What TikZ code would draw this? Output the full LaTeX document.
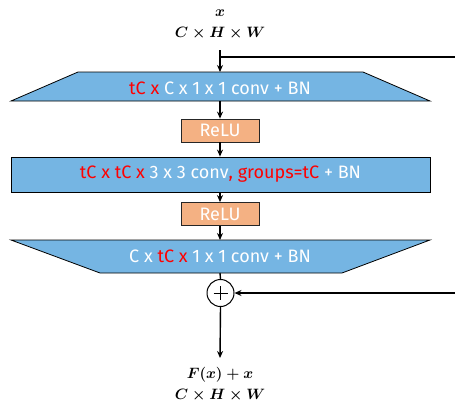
\RequirePackage{fix-cm}
\documentclass[tikz,border=0pt]{standalone}
\usepackage{fontspec}
\setsansfont{Fira Sans}
\usetikzlibrary{arrows.meta}
\definecolor{convblue}{HTML}{75B5E3}
\definecolor{reluorange}{HTML}{F4B183}
\definecolor{redtxt}{HTML}{FF0000}
\tikzset{
  blk/.style={draw=black, line width=0.8pt, fill=convblue},
  relu/.style={draw=black!85, line width=0.8pt, fill=reluorange, minimum width=78pt, minimum height=23pt, inner sep=0pt, text=white, font=\sffamily\fontsize{18}{18}\selectfont},
  lbl/.style={text=white, font=\sffamily\fontsize{18}{18}\selectfont},
  mathlbl/.style={font=\fontsize{15}{18}\selectfont\boldmath, align=center},
  arr/.style={-{Stealth[length=7pt,width=6pt]}, line width=1.4pt},
  ln/.style={line width=1.4pt}
}
\begin{document}
\begin{tikzpicture}[x=1pt,y=-1pt]
\useasboundingbox (0,0) rectangle (455,405);
% input labels
\node[mathlbl] (inx) at (220,13) {$x$};
\node[mathlbl] (inshape) at (220,33) {$C\times H\times W$};
% top branching point
\coordinate (tick) at (220,50);
\coordinate (split) at (220,57);
\coordinate (skipR) at (455,57);
% trapezoid 1
\draw[blk] (78,72) -- (363,72) -- (430,101) -- (11,101) -- cycle;
\coordinate (t1top) at (220,72);
\coordinate (t1bot) at (220,101);
\node[lbl] (t1) at (220,88.5) {\textcolor{redtxt}{tC x} C x 1 x 1 conv + BN};
% relu 1
\node[relu] (r1) at (220,130.5) {ReLU};
% rectangle 2
\node[blk, minimum width=419pt, minimum height=35pt, inner sep=0pt] (g) at (220.5,174.5) {};
\node[lbl] (gtxt) at (220.5,174.5) {\textcolor{redtxt}{tC x tC x} 3 x 3 conv\textcolor{redtxt}{, groups=tC} + BN};
% relu 2
\node[relu] (r2) at (220,214) {ReLU};
% trapezoid 3
\draw[blk] (11,240) -- (430,240) -- (342,273) -- (100,273) -- cycle;
\coordinate (t3top) at (220,240);
\coordinate (t3bot) at (220,273);
\node[lbl] (t3) at (220,256.5) {C x \textcolor{redtxt}{tC x} 1 x 1 conv + BN};
% sum
\node[draw=black, circle, line width=1pt, minimum size=27pt, inner sep=0pt] (sum) at (220.5,293) {};
\draw[line width=0.9pt] (sum.center) ++(-7,0) -- ++(14,0) (sum.center) ++(0,-7) -- ++(0,14);
\coordinate (skipR2) at (455,293);
% output labels
\node[mathlbl] (outx) at (220,375) {$F(x)+x$};
\node[mathlbl] (outshape) at (220,395) {$C\times H\times W$};
\coordinate (outarr) at (220,358);
% connectors
\draw[ln] (tick) -- (split) -- (skipR);
\draw[arr] (split) -- (t1top);
\draw[arr] (t1bot) -- (r1.north);
\draw[arr] (r1.south) -- (g.north -| r1.south);
\draw[arr] (g.south -| r2.north) -- (r2.north);
\draw[arr] (r2.south) -- (t3top);
\draw[ln] (t3bot) -- (sum.north);
\draw[arr] (skipR2) -- (sum.east);
\draw[arr] (sum.south) -- (outarr);
\end{tikzpicture}
\end{document}
